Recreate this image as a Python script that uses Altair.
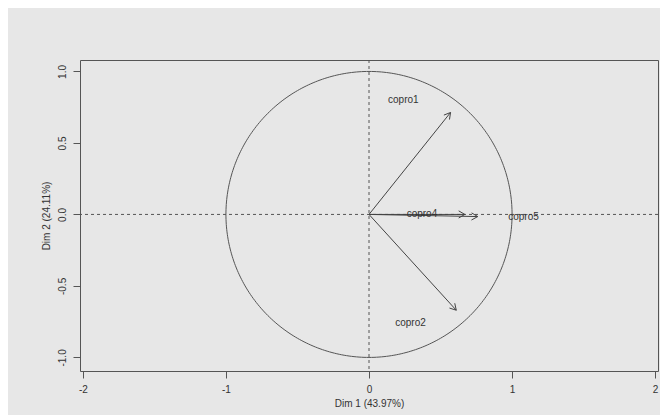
import altair as alt
import numpy as np
import pandas as pd

# Variable coordinates (correlation circle)
variables = ["copro1", "copro2", "copro4", "copro5"]
dim1 = [0.57, 0.61, 0.67, 0.76]
dim2 = [0.713, -0.67, 0.0, -0.015]
label_x = [0.24, 0.29, 0.37, 1.08]
label_y = [0.80, -0.76, 0.0, -0.02]

x_ticks = [-2, -1, 0, 1, 2]
y_ticks = [-1.0, -0.5, 0.0, 0.5, 1.0]

XD = [-2.02, 2.02]
YD = [-1.095, 1.08]
FONT = "Liberation Sans"
LINE = "#444444"

arrows = pd.DataFrame({"var": variables, "x": dim1, "y": dim2,
                       "x0": [0.0] * 4, "y0": [0.0] * 4})
# arrowhead wings derived from arrow direction
head_len, head_ang = 0.05, np.radians(30)
rows = []
for v, xe, ye in zip(variables, dim1, dim2):
    a = np.arctan2(ye, xe)
    for s in (1, -1):
        rows.append({"var": v, "x": xe, "y": ye,
                     "xw": xe - head_len * np.cos(a + s * head_ang),
                     "yw": ye - head_len * np.sin(a + s * head_ang)})
heads = pd.DataFrame(rows)

labels = pd.DataFrame({"var": variables, "x": label_x, "y": label_y})

t = np.linspace(0, 2 * np.pi, 361)
circle = pd.DataFrame({"x": np.cos(t), "y": np.sin(t), "o": np.arange(361)})

xs = alt.Scale(domain=XD, nice=False, zero=False)
ys = alt.Scale(domain=YD, nice=False, zero=False)

fix_minus = "replace(datum.label, '\u2212', '-')"
xaxis = alt.Axis(values=x_ticks, title="Dim 1 (43.97%)", format="d",
                 labelExpr=fix_minus,
                 grid=False, domain=False, tickSize=7, tickColor="#555",
                 labelPadding=6, titlePadding=4)
yaxis = alt.Axis(values=y_ticks, title="Dim 2 (24.11%)", format=".1f",
                 labelExpr=fix_minus,
                 grid=False, domain=False, tickSize=7, tickColor="#555",
                 labelAngle=270, labelAlign="center", labelBaseline="bottom",
                 labelPadding=6, titlePadding=6)

base_x = alt.X("x:Q", scale=xs, axis=xaxis)
base_y = alt.Y("y:Q", scale=ys, axis=yaxis)

circ = alt.Chart(circle).mark_line(color="#555", strokeWidth=1, clip=True).encode(
    x=base_x, y=base_y, order="o:Q")

hline = alt.Chart(pd.DataFrame({"y": [0.0]})).mark_rule(
    color="#555", strokeDash=[3, 3], strokeWidth=1).encode(y=alt.Y("y:Q", scale=ys))
vline = alt.Chart(pd.DataFrame({"x": [0.0]})).mark_rule(
    color="#555", strokeDash=[3, 3], strokeWidth=1).encode(x=alt.X("x:Q", scale=xs))

arr = alt.Chart(arrows).mark_rule(color=LINE, strokeWidth=1).encode(
    x=alt.X("x0:Q", scale=xs), y=alt.Y("y0:Q", scale=ys), x2="x:Q", y2="y:Q")
hd = alt.Chart(heads).mark_rule(color=LINE, strokeWidth=1).encode(
    x=alt.X("x:Q", scale=xs), y=alt.Y("y:Q", scale=ys), x2="xw:Q", y2="yw:Q")

txt = alt.Chart(labels).mark_text(font=FONT, fontSize=10, color="#333").encode(
    x=alt.X("x:Q", scale=xs), y=alt.Y("y:Q", scale=ys), text="var:N")

chart = alt.layer(circ, hline, vline, arr, hd, txt).properties(
    width=578, height=311,
    background="#e7e7e7",
    autosize=alt.AutoSizeParams(type="none"),
    padding={"left": 72, "top": 52, "right": 2, "bottom": 44},
).configure_view(
    stroke="#555", strokeWidth=1
).configure_axis(
    labelFont=FONT, labelFontSize=10, labelColor="#333",
    titleFont=FONT, titleFontSize=10, titleColor="#333", titleFontWeight="normal",
)

chart.save("out.html", embed_options={"renderer": "svg", "actions": False})
